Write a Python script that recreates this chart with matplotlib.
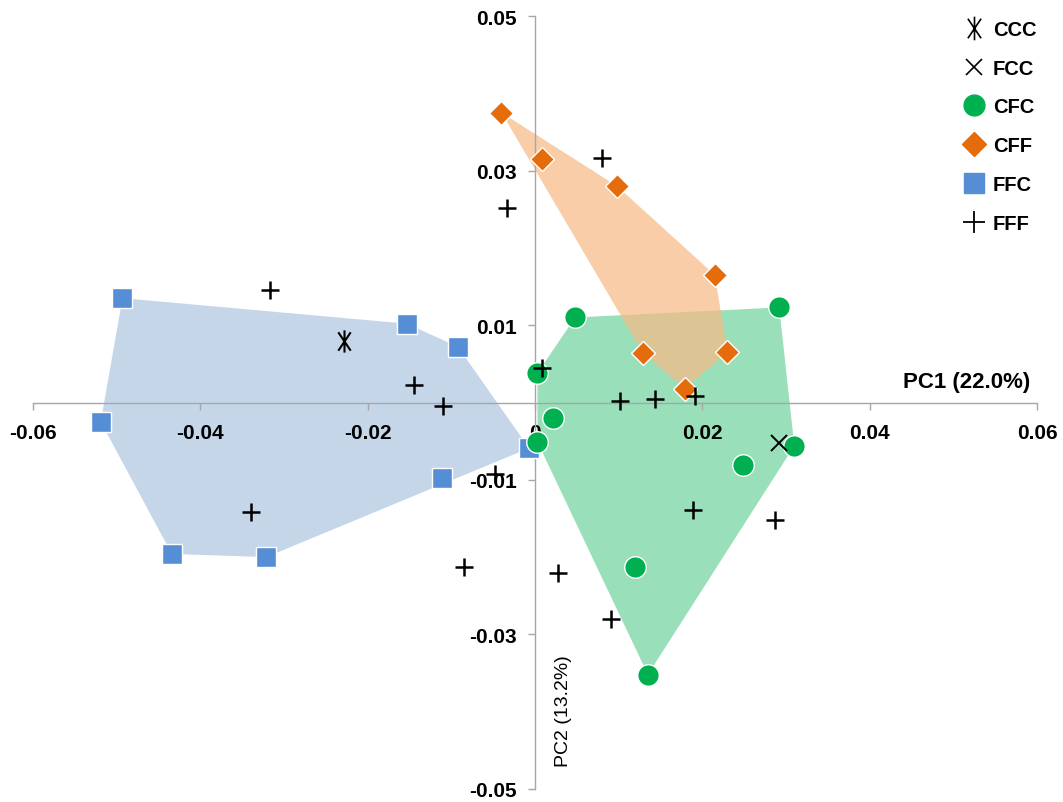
import matplotlib
matplotlib.use("Agg")
import matplotlib.pyplot as plt
from matplotlib.patches import Polygon
from matplotlib.lines import Line2D
from matplotlib.path import Path
import numpy as np

plt.rcParams['font.family'] = ['Liberation Sans', 'DejaVu Sans']

# ---- data ----
ffc_x = [-0.0493, -0.0153, -0.0092, -0.0519, -0.0434, -0.0321, -0.0111, -0.0007]
ffc_y = [0.0135, 0.0102, 0.0072, -0.0025, -0.0196, -0.0200, -0.0098, -0.0059]

cff_x = [-0.0040, 0.0009, 0.0098, 0.0215, 0.0129, 0.0230, 0.0179]
cff_y = [0.0375, 0.0315, 0.0280, 0.0165, 0.0064, 0.0065, 0.0018]

cfc_x = [0.0048, 0.0292, 0.0003, 0.0021, 0.0003, 0.0310, 0.0249, 0.0120, 0.0135]
cfc_y = [0.0110, 0.0123, 0.0038, -0.0020, -0.0051, -0.0056, -0.0081, -0.0213, -0.0352]

fff_x = [0.0080, -0.0034, -0.0317, -0.0145, -0.0110, 0.0009, 0.0102, 0.0143, 0.0191,
         -0.0048, -0.0339, -0.0085, 0.0028, 0.0091, 0.0189, 0.0287]
fff_y = [0.0316, 0.0251, 0.0146, 0.0023, -0.0004, 0.0044, 0.0002, 0.0004, 0.0008,
         -0.0092, -0.0142, -0.0213, -0.0220, -0.0280, -0.0139, -0.0152]

ccc_x = [-0.0228]
ccc_y = [0.0079]
fcc_x = [0.0292]
fcc_y = [-0.0053]

x_ticks = [-0.06, -0.04, -0.02, 0, 0.02, 0.04, 0.06]
x_ticklabels = ['-0.06', '-0.04', '-0.02', '0', '0.02', '0.04', '0.06']
y_ticks = [-0.05, -0.03, -0.01, 0.01, 0.03, 0.05]
y_ticklabels = ['-0.05', '-0.03', '-0.01', '0.01', '0.03', '0.05']
x_label = 'PC1 (22.0%)'
y_label = 'PC2 (13.2%)'


def hull(xs, ys):
    pts = sorted(set(zip(xs, ys)))
    def cross(o, a, b):
        return (a[0]-o[0])*(b[1]-o[1]) - (a[1]-o[1])*(b[0]-o[0])
    lower = []
    for p in pts:
        while len(lower) >= 2 and cross(lower[-2], lower[-1], p) <= 0:
            lower.pop()
        lower.append(p)
    upper = []
    for p in reversed(pts):
        while len(upper) >= 2 and cross(upper[-2], upper[-1], p) <= 0:
            upper.pop()
        upper.append(p)
    return lower[:-1] + upper[:-1]


# asterisk marker: vertical bar with two arms close to vertical
_a = np.deg2rad(34)
_sx, _sy = np.sin(_a), np.cos(_a)
ast_marker = Path([(0, -1), (0, 1), (-_sx, -_sy), (_sx, _sy), (_sx, -_sy), (-_sx, _sy)],
                  [Path.MOVETO, Path.LINETO, Path.MOVETO, Path.LINETO, Path.MOVETO, Path.LINETO])

fig = plt.figure(figsize=(10.63, 8.03), dpi=100)
ax = fig.add_axes([0.031, 0.0162, 0.9445, 0.9626])

blue = '#558ed5'
orange = '#e46c0a'
green = '#00b050'

ax.add_patch(Polygon(hull(ffc_x, ffc_y), closed=True, facecolor='#4f81bd', alpha=0.32,
                     edgecolor='none', zorder=1))
ax.add_patch(Polygon(hull(cfc_x, cfc_y), closed=True, facecolor=green, alpha=0.4,
                     edgecolor='none', zorder=1.1))
ax.add_patch(Polygon(hull(cff_x, cff_y), closed=True, facecolor='#f8ba86', alpha=0.72,
                     edgecolor='none', zorder=1.2))

ax.plot(ffc_x, ffc_y, 's', ms=14, color=blue, mec='white', mew=1, zorder=4)
ax.plot(cff_x, cff_y, 'D', ms=12, color=orange, mec='white', mew=1, zorder=4)
ax.plot(cfc_x, cfc_y, 'o', ms=15.5, color=green, mec='white', mew=1, zorder=4)
ax.plot(fff_x, fff_y, '+', ms=13, color='black', mew=1.8, zorder=5)
ax.plot(ccc_x, ccc_y, marker=ast_marker, ls='none', ms=16, color='black', mew=1.5, zorder=5)
ax.plot(fcc_x, fcc_y, 'x', ms=11, color='black', mew=1.4, zorder=5)

ax.set_xlim(-0.06, 0.06)
ax.set_ylim(-0.05, 0.05)

for s in ['top', 'right']:
    ax.spines[s].set_visible(False)
for s in ['left', 'bottom']:
    ax.spines[s].set_position(('data', 0))
    ax.spines[s].set_color('#a6a6a6')
    ax.spines[s].set_linewidth(1.0)

ax.set_xticks(x_ticks)
ax.set_xticklabels(x_ticklabels)
ax.set_yticks(y_ticks)
ax.set_yticklabels(y_ticklabels)
ax.tick_params(axis='both', direction='out', length=5, color='#a6a6a6', width=1,
               labelsize=15)
ax.tick_params(axis='x', pad=10)
ax.tick_params(axis='y', pad=8)
for lab in ax.get_xticklabels() + ax.get_yticklabels():
    lab.set_fontweight('bold')

ax.text(0.0592, 0.0014, x_label, ha='right', va='bottom', fontsize=16, fontweight='bold')
ax.text(0.0034, -0.0398, y_label, ha='center', va='center', rotation=90, fontsize=14)

handles = [
    Line2D([], [], marker=ast_marker, ls='none', ms=17, color='black', mew=1.2),
    Line2D([], [], marker='x', ls='none', ms=11, color='black', mew=1.2),
    Line2D([], [], marker='o', ls='none', ms=15, color=green, mec=green),
    Line2D([], [], marker='D', ls='none', ms=12, color=orange, mec=orange),
    Line2D([], [], marker='s', ls='none', ms=14, color=blue, mec=blue),
    Line2D([], [], marker='+', ls='none', ms=16, color='black', mew=1.3),
]
labels = ['CCC', 'FCC', 'CFC', 'CFF', 'FFC', 'FFF']
leg = fig.legend(handles, labels, loc='upper left', bbox_to_anchor=(0.895, 0.984),
                 frameon=False, prop={'size': 14.5, 'weight': 'bold'},
                 labelspacing=0.98, handletextpad=0.25, handlelength=1.4, borderaxespad=0)

fig.savefig('out.png', dpi=100)
